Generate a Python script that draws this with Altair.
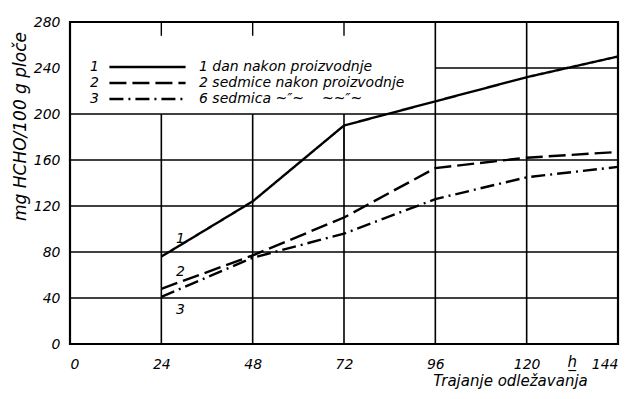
import altair as alt
import pandas as pd

# ---- data ----
hours = [24, 48, 72, 96, 120, 144]
s1 = [76, 124, 190, 211, 232, 250]
s2 = [48, 77, 110, 153, 162, 167]
s3 = [41, 75, 96, 126, 145, 154]
NB = "\u00a0"
series_names = ["1 dan nakon proizvodnje", "2 sedmice nakon proizvodnje",
                "6 sedmica" + NB + "~″~" + NB * 4 + "~~″~"]
series_nums = ["1", "2", "3"]
x_ticks = [0, 24, 48, 72, 96, 120, 144]
y_ticks = [0, 40, 80, 120, 160, 200, 240, 280]

# grid segments of the drawing sheet
hgrid_y = [40, 80, 120, 160, 200, 240]
hgrid_x0 = [0, 0, 0, 0, 0, 96]
hgrid_x1 = [144, 144, 144, 144, 144, 144]
vgrid_x = [24, 48, 72, 96, 120]
vgrid_y0 = [0, 0, 0, 0, 0]
vgrid_y1 = [200, 200, 200, 280, 280]
topmark_x = [24, 48, 72]
topmark_y0 = [268, 268, 268]
topmark_y1 = [280, 280, 280]
constr_x = [72]
constr_y0 = [160]
constr_y1 = [190]

# curve numbers written next to the start of each curve
ann_text = ["1", "2", "3"]
ann_x = [29, 29, 29]
ann_y = [91, 63, 30]

# unit mark on the x axis
unit_text = ["h", "_"]
unit_x = [132, 132]

rows = []
for name, num, vals in zip(series_names, series_nums, [s1, s2, s3]):
    for h, v in zip(hours, vals):
        rows.append({"h": h, "v": v, "serija": name, "num": num})
df = pd.DataFrame(rows)

hgrid = pd.DataFrame({"y": hgrid_y, "x0": hgrid_x0, "x1": hgrid_x1})
vgrid = pd.DataFrame({"x": vgrid_x, "y0": vgrid_y0, "y1": vgrid_y1})
topm = pd.DataFrame({"x": topmark_x, "y0": topmark_y0, "y1": topmark_y1})
constr = pd.DataFrame({"x": constr_x, "y0": constr_y0, "y1": constr_y1})
ann = pd.DataFrame({"t": ann_text, "x": ann_x, "y": ann_y})
unit = pd.DataFrame({"t": unit_text, "x": unit_x})

FONT = "DejaVu Sans"
xs = alt.Scale(domain=[0, 144], nice=False, zero=False)
ys = alt.Scale(domain=[0, 280], nice=False)

x_axis = alt.Axis(values=x_ticks, grid=False, ticks=False, domain=False,
                  labelFont=FONT, labelFontSize=14, labelFontStyle="italic",
                  labelPadding=13, labelFlush=True,
                  title="Trajanje odležavanja", titleFont=FONT, titleFontSize=15,
                  titleFontStyle="italic", titleFontWeight="normal",
                  titleX=440, titleY=36, titleAlign="center", titleBaseline="middle")
y_axis = alt.Axis(values=y_ticks, grid=False, ticks=False, domain=False,
                  labelFont=FONT, labelFontSize=14, labelFontStyle="italic",
                  labelPadding=10, labelFlush=False,
                  title="mg HCHO/100 g ploče", titleFont=FONT, titleFontSize=17,
                  titleFontStyle="italic", titleFontWeight="normal",
                  titleX=-50, titleY=104, titleAlign="center", titleBaseline="middle",
                  titleAngle=270)

hg = alt.Chart(hgrid).mark_rule(color="black", strokeWidth=1.6).encode(
    x=alt.X("x0:Q", scale=xs, axis=x_axis), x2="x1:Q",
    y=alt.Y("y:Q", scale=ys, axis=y_axis))
vg = alt.Chart(vgrid).mark_rule(color="black", strokeWidth=1.6).encode(
    x=alt.X("x:Q", scale=xs), y=alt.Y("y0:Q", scale=ys), y2="y1:Q")
tm = alt.Chart(topm).mark_rule(color="black", strokeWidth=1.4).encode(
    x=alt.X("x:Q", scale=xs), y=alt.Y("y0:Q", scale=ys), y2="y1:Q")
cm = alt.Chart(constr).mark_rule(color="black", strokeWidth=1).encode(
    x=alt.X("x:Q", scale=xs), y=alt.Y("y0:Q", scale=ys), y2="y1:Q")

lines = alt.Chart(df).mark_line(color="black", strokeWidth=2.4).encode(
    x=alt.X("h:Q", scale=xs),
    y=alt.Y("v:Q", scale=ys),
    strokeDash=alt.StrokeDash(
        "serija:N",
        scale=alt.Scale(domain=series_names, range=[[1, 0], [17, 6], [14, 5, 2, 5]]),
        legend=alt.Legend(orient="none", legendX=38, legendY=37, title=None,
                          symbolType="stroke", symbolSize=5800, symbolStrokeWidth=2.6,
                          symbolStrokeColor="black", clipHeight=16, rowPadding=0,
                          padding=0, labelFont=FONT, labelFontSize=14,
                          labelFontStyle="italic", labelOffset=12, labelLimit=400)),
)

nums = alt.Chart(df).mark_point(opacity=0, size=1).encode(
    x=alt.X("h:Q", scale=xs),
    y=alt.Y("v:Q", scale=ys),
    shape=alt.Shape("num:N", scale=alt.Scale(domain=series_nums),
                    legend=alt.Legend(orient="none", legendX=6, legendY=37, title=None,
                                      symbolOpacity=0, symbolSize=1, clipHeight=16,
                                      rowPadding=0, padding=0, labelFont=FONT,
                                      labelFontSize=14, labelFontStyle="italic",
                                      labelOffset=0)),
)

annot = alt.Chart(ann).mark_text(font=FONT, fontSize=14, fontStyle="italic",
                                 color="black", align="center", baseline="middle").encode(
    x=alt.X("x:Q", scale=xs), y=alt.Y("y:Q", scale=ys), text="t:N")

hlabel = alt.Chart(unit).mark_text(
    font=FONT, fontSize=15, fontStyle="italic", color="black", baseline="top").encode(
    x=alt.X("x:Q", scale=xs), y=alt.value(333), text="t:N")

chart = alt.layer(hg, vg, tm, cm, lines, nums, annot, hlabel).properties(
    width=548, height=322,
    autosize=alt.AutoSizeParams(type="none"),
    padding={"left": 62, "top": 14, "right": 3, "bottom": 47},
).configure_view(stroke="black", strokeWidth=2.2).resolve_legend(
    strokeDash="independent", shape="independent")

chart.save("out.html", embed_options={"renderer": "svg", "actions": False})
